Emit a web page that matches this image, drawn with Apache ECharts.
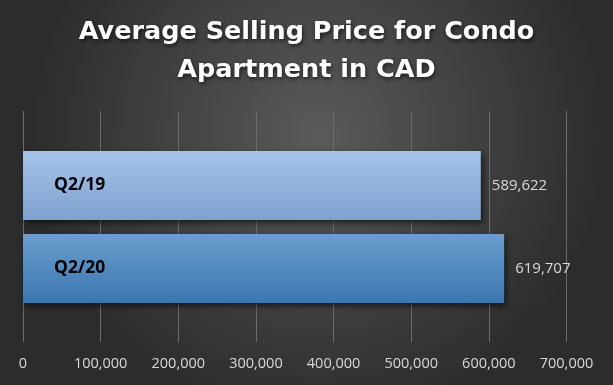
<!DOCTYPE html>
<html>
<head>
<meta charset="utf-8">
<script src="https://cdn.jsdelivr.net/npm/echarts@6/dist/echarts.min.js"></script>
<style>html,body{margin:0;padding:0;background:#333;}#c{width:613px;height:385px;}</style>
</head>
<body>
<div id="c"></div>
<script>
const titleText = 'Average Selling Price for Condo\nApartment in CAD';
const categories = ['Q2/19', 'Q2/20'];
const values = [589622, 619707];
const axisMin = 0, axisMax = 700000, axisStep = 100000;
const barGradients = [['#a6c4ea', '#7ea1cf'], ['#6b9ecf', '#3a76b0']];

const fmt = v => Number(v).toLocaleString('en-US');
const chart = echarts.init(document.getElementById('c'), null, {renderer: 'canvas'});
const option = {
  backgroundColor: new echarts.graphic.RadialGradient(0.52, 0.35, 0.75, [
    {offset: 0, color: '#5a5a5a'}, {offset: 1, color: '#2c2c2c'}
  ]),
  animation: false,
  title: {
    text: titleText, left: 'center', top: 13, padding: 0,
    textStyle: {
      color: '#ffffff', fontFamily: 'DejaVu Sans', fontWeight: 'bold', fontSize: 25.5, lineHeight: 38,
      textShadowColor: 'rgba(0,0,0,0.65)', textShadowBlur: 4, textShadowOffsetX: 1, textShadowOffsetY: 2
    }
  },
  grid: [
    {left: 23, right: 46.5, top: 111, bottom: 43},
    {left: 23, right: 46.5, top: 144, bottom: 75}
  ],
  xAxis: [
    {gridIndex: 0, type: 'value', min: axisMin, max: axisMax, interval: axisStep,
     axisLine: {show: false}, axisTick: {show: false},
     splitLine: {show: true, lineStyle: {color: '#6c6c6c', width: 1}},
     axisLabel: {color: '#d9d9d9', fontFamily: 'Open Sans', fontSize: 14.5, margin: 14, formatter: fmt}},
    {gridIndex: 1, type: 'value', min: axisMin, max: axisMax, interval: axisStep, show: false,
     splitLine: {show: false}}
  ],
  yAxis: [
    {gridIndex: 0, type: 'category', data: [''], show: false},
    {gridIndex: 1, type: 'category', data: categories, inverse: true, z: 10,
     axisLine: {show: false}, axisTick: {show: false},
     axisLabel: {inside: true, margin: 31, color: '#000000', fontFamily: 'Open Sans', fontWeight: 'bold', fontSize: 17.5}}
  ],
  series: [{
    type: 'bar', xAxisIndex: 1, yAxisIndex: 1, barWidth: 69,
    data: values.map((v, i) => ({
      value: v,
      itemStyle: {
        color: new echarts.graphic.LinearGradient(0, 0, 0, 1, [
          {offset: 0, color: barGradients[i][0]}, {offset: 1, color: barGradients[i][1]}
        ]),
        shadowColor: 'rgba(0,0,0,0.6)', shadowBlur: 6, shadowOffsetX: 2, shadowOffsetY: 3
      }
    })),
    label: {show: true, position: 'right', distance: 11, color: '#d9d9d9', fontFamily: 'Open Sans', fontSize: 15,
            formatter: p => fmt(p.value)}
  }]
};
chart.setOption(option);
</script>
</body>
</html>
